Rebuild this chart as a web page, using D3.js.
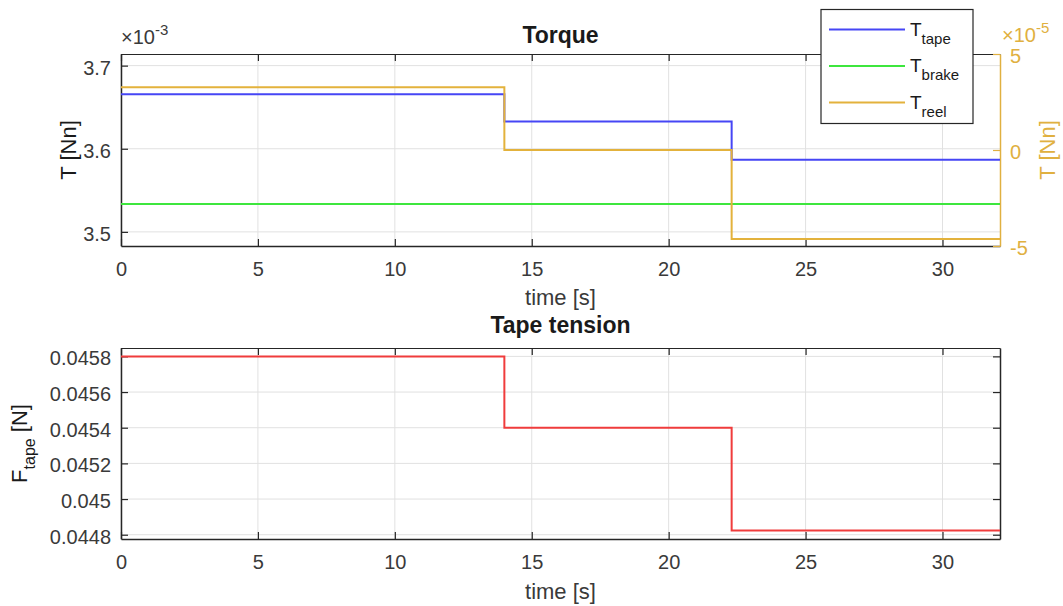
<!DOCTYPE html>
<html>
<head>
<meta charset="utf-8">
<script src="https://cdn.jsdelivr.net/npm/d3@7"></script>
<style>
  body { margin: 0; background: #fff; }
  text { font-family: "Liberation Sans", Arial, sans-serif; }
</style>
</head>
<body>
<div id="chart"></div>
<script>
// Step data (segment start times + end of record)
const timeSteps = [0, 14, 22.3, 32.1];
const tTape = [3.6657e-3, 3.6328e-3, 3.5868e-3];
const tBrake = [3.5336e-3, 3.5336e-3, 3.5336e-3];
const tReel = [3.27e-5, 0, -4.63e-5];
const fTape = [0.04580, 0.04540, 0.044824];

const xTicks = [0, 5, 10, 15, 20, 25, 30];
const leftTicks = [3.5e-3, 3.6e-3, 3.7e-3];
const leftTickLabels = ["3.5", "3.6", "3.7"];
const rightTicks = [-5e-5, 0, 5e-5];
const rightTickLabels = ["-5", "0", "5"];
const fTicks = [0.0448, 0.045, 0.0452, 0.0454, 0.0456, 0.0458];
const fTickLabels = ["0.0448", "0.045", "0.0452", "0.0454", "0.0456", "0.0458"];

const legendNames = ["tape", "brake", "reel"];
const colors = { tape: "#4646f5", brake: "#3de63d", reel: "#e3b23c", f: "#f03c3c" };
const axisCol = "#262626", gridCol = "#e1e1e1", reelAxisCol = "#e0b040";

const W = 1063, H = 606;
const svg = d3.select("#chart").append("svg")
    .attr("width", W).attr("height", H);

const left = 121, right = 1000;
const top1 = 54, bot1 = 246;
const top2 = 348, bot2 = 539;
const tick = 7;

// build step points
function steps(vals) {
    const pts = vals.map((v, i) => [timeSteps[i], v]);
    pts.push([timeSteps[timeSteps.length - 1], vals[vals.length - 1]]);
    return pts;
}

const x = d3.scaleLinear().domain([0, 32.1]).range([left, right]);
const yL = d3.scaleLinear().domain([3.483e-3, 3.714e-3]).range([bot1, top1]);
const yR = d3.scaleLinear().domain([-5e-5, 5e-5]).range([bot1, top1]);
const yF = d3.scaleLinear().domain([0.044776, 0.045847]).range([bot2, top2]);

function panel(top, bot, y, yTicks, yLabels, rightBlack) {
    const g = svg.append("g");
    // grid
    g.selectAll(".gx").data(xTicks).join("line")
        .attr("x1", d => x(d)).attr("x2", d => x(d))
        .attr("y1", top).attr("y2", bot)
        .attr("stroke", gridCol).attr("stroke-width", 1);
    g.selectAll(".gy").data(yTicks).join("line")
        .attr("x1", left).attr("x2", right)
        .attr("y1", d => y(d)).attr("y2", d => y(d))
        .attr("stroke", gridCol).attr("stroke-width", 1);

    // bottom axis
    const ax = g.append("g").attr("transform", `translate(0,${bot})`)
        .call(d3.axisBottom(x).tickValues(xTicks).tickSizeInner(-tick).tickSizeOuter(0).tickPadding(16));
    ax.select(".domain").attr("stroke", axisCol).attr("stroke-width", 1.5);
    ax.selectAll(".tick line").attr("stroke", axisCol).attr("stroke-width", 1.2);
    ax.selectAll("text").attr("font-size", 20).attr("fill", "#3a3a3a")
        .attr("font-family", "Liberation Sans, Arial, sans-serif");

    // top axis ticks (box)
    const axT = g.append("g").attr("transform", `translate(0,${top})`)
        .call(d3.axisTop(x).tickValues(xTicks).tickSizeInner(-tick).tickSizeOuter(0).tickFormat(""));
    axT.select(".domain").attr("stroke", axisCol).attr("stroke-width", 1.2);
    axT.selectAll(".tick line").attr("stroke", axisCol).attr("stroke-width", 1.2);

    // left axis
    const ay = g.append("g").attr("transform", `translate(${left},0)`)
        .call(d3.axisLeft(y).tickValues(yTicks).tickSizeInner(-tick).tickSizeOuter(0)
            .tickPadding(10).tickFormat((d, i) => yLabels[i]));
    ay.select(".domain").attr("stroke", axisCol).attr("stroke-width", 1.5);
    ay.selectAll(".tick line").attr("stroke", axisCol).attr("stroke-width", 1.2);
    ay.selectAll("text").attr("font-size", 20).attr("fill", "#3a3a3a").attr("y", 2)
        .attr("font-family", "Liberation Sans, Arial, sans-serif");

    if (rightBlack) {
        const ar = g.append("g").attr("transform", `translate(${right},0)`)
            .call(d3.axisRight(y).tickValues(yTicks).tickSizeInner(-tick).tickSizeOuter(0).tickFormat(""));
        ar.select(".domain").attr("stroke", axisCol).attr("stroke-width", 1.5);
        ar.selectAll(".tick line").attr("stroke", axisCol).attr("stroke-width", 1.2);
    }
    return g;
}

const lineGen = (yScale) => d3.line()
    .x(d => x(d[0])).y(d => yScale(d[1]))
    .curve(d3.curveStepAfter);

// ---------------- Top panel: Torque ----------------
const g1 = panel(top1, bot1, yL, leftTicks, leftTickLabels, false);

// right (yyaxis) axis
const ar1 = g1.append("g").attr("transform", `translate(${right},0)`)
    .call(d3.axisRight(yR).tickValues(rightTicks).tickSizeInner(-tick).tickSizeOuter(0)
        .tickPadding(10).tickFormat((d, i) => rightTickLabels[i]));
ar1.select(".domain").attr("stroke", reelAxisCol).attr("stroke-width", 1.5);
ar1.selectAll(".tick line").attr("stroke", reelAxisCol).attr("stroke-width", 1.2);
ar1.selectAll("text").attr("font-size", 20).attr("fill", reelAxisCol).attr("y", 2)
    .attr("font-family", "Liberation Sans, Arial, sans-serif");

g1.append("path").datum(steps(tBrake)).attr("d", lineGen(yL))
    .attr("fill", "none").attr("stroke", colors.brake).attr("stroke-width", 2);
g1.append("path").datum(steps(tTape)).attr("d", lineGen(yL))
    .attr("fill", "none").attr("stroke", colors.tape).attr("stroke-width", 2);
g1.append("path").datum(steps(tReel)).attr("d", lineGen(yR))
    .attr("fill", "none").attr("stroke", colors.reel).attr("stroke-width", 2);

// exponent labels
function expLabel(xp, yp, exp, col) {
    const t = svg.append("text").attr("x", xp).attr("y", yp)
        .attr("font-size", 20).attr("fill", col);
    t.append("tspan").text("\u00d710");
    t.append("tspan").attr("dy", -9).attr("font-size", 15).text(exp);
}
expLabel(121, 44, "-3", "#3a3a3a");
expLabel(1002, 42, "-5", reelAxisCol);

// titles and labels
svg.append("text").attr("x", (left + right) / 2).attr("y", 43)
    .attr("text-anchor", "middle").attr("font-size", 23).attr("font-weight", "bold")
    .attr("fill", "#1a1a1a").text("Torque");
svg.append("text").attr("x", (left + right) / 2).attr("y", 305)
    .attr("text-anchor", "middle").attr("font-size", 22).attr("fill", "#3a3a3a").text("time [s]");
svg.append("text").attr("transform", `translate(76,${(top1 + bot1) / 2}) rotate(-90)`)
    .attr("text-anchor", "middle").attr("font-size", 22).attr("fill", "#1a1a1a").text("T [Nn]");
svg.append("text").attr("transform", `translate(1055,${(top1 + bot1) / 2}) rotate(-90)`)
    .attr("text-anchor", "middle").attr("font-size", 22).attr("fill", reelAxisCol).text("T [Nn]");

// legend
const lg = svg.append("g");
lg.append("rect").attr("x", 821).attr("y", 9.5).attr("width", 152).attr("height", 114)
    .attr("fill", "#fff").attr("stroke", axisCol).attr("stroke-width", 1.2);
legendNames.forEach((name, i) => {
    const ly = 29.5 + i * 36.5;
    lg.append("line").attr("x1", 829).attr("x2", 905).attr("y1", ly).attr("y2", ly)
        .attr("stroke", colors[name]).attr("stroke-width", 2);
    const t = lg.append("text").attr("x", 910).attr("y", ly + 6)
        .attr("font-size", 19).attr("fill", "#1a1a1a");
    t.append("tspan").text("T");
    t.append("tspan").attr("dy", 8).attr("font-size", 15).text(name);
});

// ---------------- Bottom panel: Tape tension ----------------
const g2 = panel(top2, bot2, yF, fTicks, fTickLabels, true);
g2.append("path").datum(steps(fTape)).attr("d", lineGen(yF))
    .attr("fill", "none").attr("stroke", colors.f).attr("stroke-width", 2);

svg.append("text").attr("x", (left + right) / 2).attr("y", 333)
    .attr("text-anchor", "middle").attr("font-size", 23).attr("font-weight", "bold")
    .attr("fill", "#1a1a1a").text("Tape tension");
svg.append("text").attr("x", (left + right) / 2).attr("y", 599)
    .attr("text-anchor", "middle").attr("font-size", 22).attr("fill", "#3a3a3a").text("time [s]");
const fl = svg.append("text").attr("transform", `translate(27,${(top2 + bot2) / 2}) rotate(-90)`)
    .attr("text-anchor", "middle").attr("font-size", 22).attr("fill", "#1a1a1a");
fl.append("tspan").text("F");
fl.append("tspan").attr("dy", 8).attr("font-size", 16).text("tape");
fl.append("tspan").attr("dy", -8).text(" [N]");
</script>
</body>
</html>
